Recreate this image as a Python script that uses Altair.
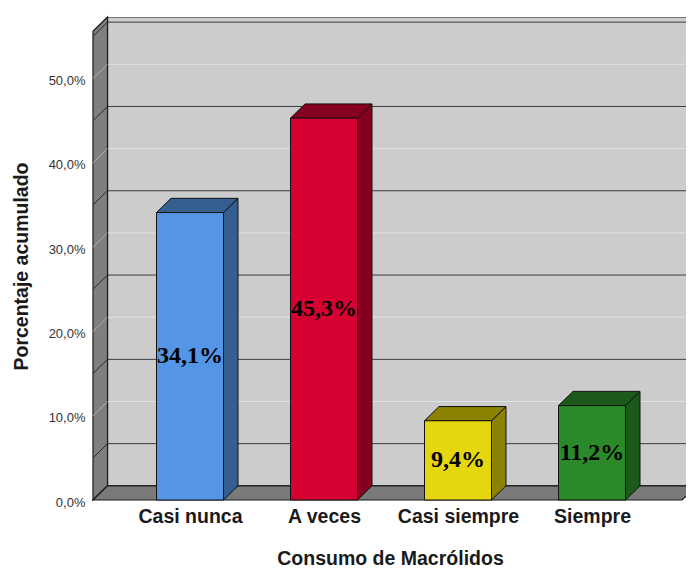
import altair as alt
import pandas as pd

# ---- data ----
categories = ["Casi nunca", "A veces", "Casi siempre", "Siempre"]
values = [34.1, 45.3, 9.4, 11.2]
front_colors = ["#5595e6", "#d70032", "#e6d60e", "#2a8a2a"]
side_colors = ["#365f91", "#85001f", "#8a8200", "#1b5a1b"]
tick_values = [0, 10, 20, 30, 40, 50]
minor_values = [5, 15, 25, 35, 45, 55]

# ---- geometry of the 3D look (style constants) ----
PX_X = 134.0          # px per category step
PX_Y = 8.43           # px per percentage point
W, H = 593, 483       # plot area
X0 = 1 - 97 / PX_X
X1 = X0 + W / PX_X
Y1 = H / PX_Y
DX = 14.5 / PX_X      # depth offset (x)
DY = 14.2 / PX_Y      # depth offset (y)
HALF = 0.25

xs = alt.Scale(domain=[X0, X1], nice=False, zero=False)
ys = alt.Scale(domain=[0, Y1], nice=False, zero=False)

label_js = "[" + ",".join("'" + c + "'" for c in categories) + "]"

x_axis = alt.Axis(
    values=[1, 2, 3, 4], labelExpr=label_js + "[datum.value-1]",
    title="Consumo de Macrólidos", grid=False, ticks=False, domain=False,
    labelFont="Liberation Sans", labelFontWeight="bold", labelFontSize=19.5,
    labelColor="#1a1a1a", labelPadding=7,
    titleFont="Liberation Sans", titleFontWeight="bold", titleFontSize=19.5,
    titleColor="#1a1a1a", titleX=297, titleY=64, titleBaseline="alphabetic",
    titleAlign="center",
)
y_axis = alt.Axis(
    values=tick_values,
    labelExpr="replace(format(datum.value, '.1f'), '.', ',') + '%'",
    title="Porcentaje acumulado", grid=False, ticks=False, domain=False,
    labelFont="Liberation Sans", labelFontSize=13, labelColor="#333333",
    labelPadding=8, labelOffset=2,
    titleFont="Liberation Sans", titleFontWeight="bold", titleFontSize=19.5,
    titleColor="#1a1a1a", titleAngle=270, titleX=-72, titleY=249,
    titleAlign="center", titleBaseline="middle",
)


def X(field):
    return alt.X(field, scale=xs, axis=x_axis)


def Y(field):
    return alt.Y(field, scale=ys, axis=y_axis)


# back wall
wall_df = pd.DataFrame({"x": [X0 + DX], "x2": [X1 + DX], "y": [DY], "y2": [Y1]})
back = alt.Chart(wall_df).mark_rect(fill="#cccccc", stroke="#1a1a1a", strokeWidth=1.2, clip=True).encode(
    x=X("x:Q"), x2="x2:Q", y=Y("y:Q"), y2="y2:Q",
)

# grid lines on back wall
grid_df = pd.DataFrame({
    "v": tick_values[1:] + minor_values,
    "kind": ["major"] * (len(tick_values) - 1) + ["minor"] * len(minor_values),
})
grid_df["yb"] = grid_df["v"] + DY
grid_df["xa"] = X0 + DX
grid_df["xb"] = X1 + DX
grid_df["xf"] = X0
grid_df["col"] = grid_df["kind"].map({"major": "#e2e2e2", "minor": "#3c3c3c"})
grid_df["colw"] = grid_df["kind"].map({"major": "#b0b0b0", "minor": "#2a2a2a"})

back_grid = alt.Chart(grid_df).mark_rule(strokeWidth=1, clip=True).encode(
    x=X("xa:Q"), x2="xb:Q", y=Y("yb:Q"),
    color=alt.Color("col:N", scale=None),
)

# left wall
lw_df = pd.DataFrame({"x": [X0, X0 + DX], "y": [Y1 - DY, Y1], "y2": [0, DY]})
left_wall = alt.Chart(lw_df).mark_area(fill="#7f7f7f", stroke="#1a1a1a", strokeWidth=1.2, opacity=1).encode(
    x=X("x:Q"), y=Y("y:Q"), y2="y2:Q",
)
left_grid = alt.Chart(grid_df).mark_rule(strokeWidth=1).encode(
    x=X("xf:Q"), x2="xa:Q", y=Y("v:Q"), y2="yb:Q",
    color=alt.Color("colw:N", scale=None),
)

# floor
fl_df = pd.DataFrame({"y": [0, DY], "x": [X0, X0 + DX], "x2": [X1 - 0.03, X1 - 0.03 + DX]})
floor = alt.Chart(fl_df).mark_area(orient="horizontal", fill="#7a7a7a", stroke="#1a1a1a", strokeWidth=1.2, opacity=1).encode(
    y=Y("y:Q"), x=X("x:Q"), x2="x2:Q",
)

# bars
rows_side, rows_top, rows_front = [], [], []
for i, (c, v, fc, sc) in enumerate(zip(categories, values, front_colors, side_colors), start=1):
    rows_side += [
        {"cat": c, "x": i + HALF, "y": v, "y2": 0, "col": sc},
        {"cat": c, "x": i + HALF + DX, "y": v + DY, "y2": DY, "col": sc},
    ]
    rows_top += [
        {"cat": c, "y": v, "x": i - HALF, "x2": i + HALF, "col": sc},
        {"cat": c, "y": v + DY, "x": i - HALF + DX, "x2": i + HALF + DX, "col": sc},
    ]
    rows_front.append({
        "cat": c, "x": i - HALF, "x2": i + HALF, "xc": i, "v": v, "v0": 0, "vm": v / 2,
        "col": fc, "label": f"{v:.1f}".replace(".", ",") + "%",
    })

side = alt.Chart(pd.DataFrame(rows_side)).mark_area(stroke="#111111", strokeWidth=1, opacity=1).encode(
    x=X("x:Q"), y=Y("y:Q"), y2="y2:Q",
    fill=alt.Fill("col:N", scale=None), detail="cat:N",
)
top = alt.Chart(pd.DataFrame(rows_top)).mark_area(orient="horizontal", stroke="#111111", strokeWidth=1, opacity=1).encode(
    y=Y("y:Q"), x=X("x:Q"), x2="x2:Q",
    fill=alt.Fill("col:N", scale=None), detail="cat:N",
)
front_df = pd.DataFrame(rows_front)
front = alt.Chart(front_df).mark_rect(stroke="#111111", strokeWidth=1).encode(
    x=X("x:Q"), x2="x2:Q", y=Y("v:Q"), y2="v0:Q",
    fill=alt.Fill("col:N", scale=None),
)
labels = alt.Chart(front_df).mark_text(
    font="Liberation Serif", fontWeight="bold", fontSize=24, color="#000000",
    align="center", baseline="middle",
).encode(
    x=X("xc:Q"), y=Y("vm:Q"), text="label:N",
)

chart = alt.layer(back, back_grid, left_wall, left_grid, floor, side, top, front, labels).properties(
    width=W, height=H, autosize="none",
    padding={"left": 85, "top": 9, "right": 0, "bottom": 68},
    background="white",
).configure_view(stroke=None)

chart.save("out.html", embed_options={"renderer": "svg", "actions": False})
